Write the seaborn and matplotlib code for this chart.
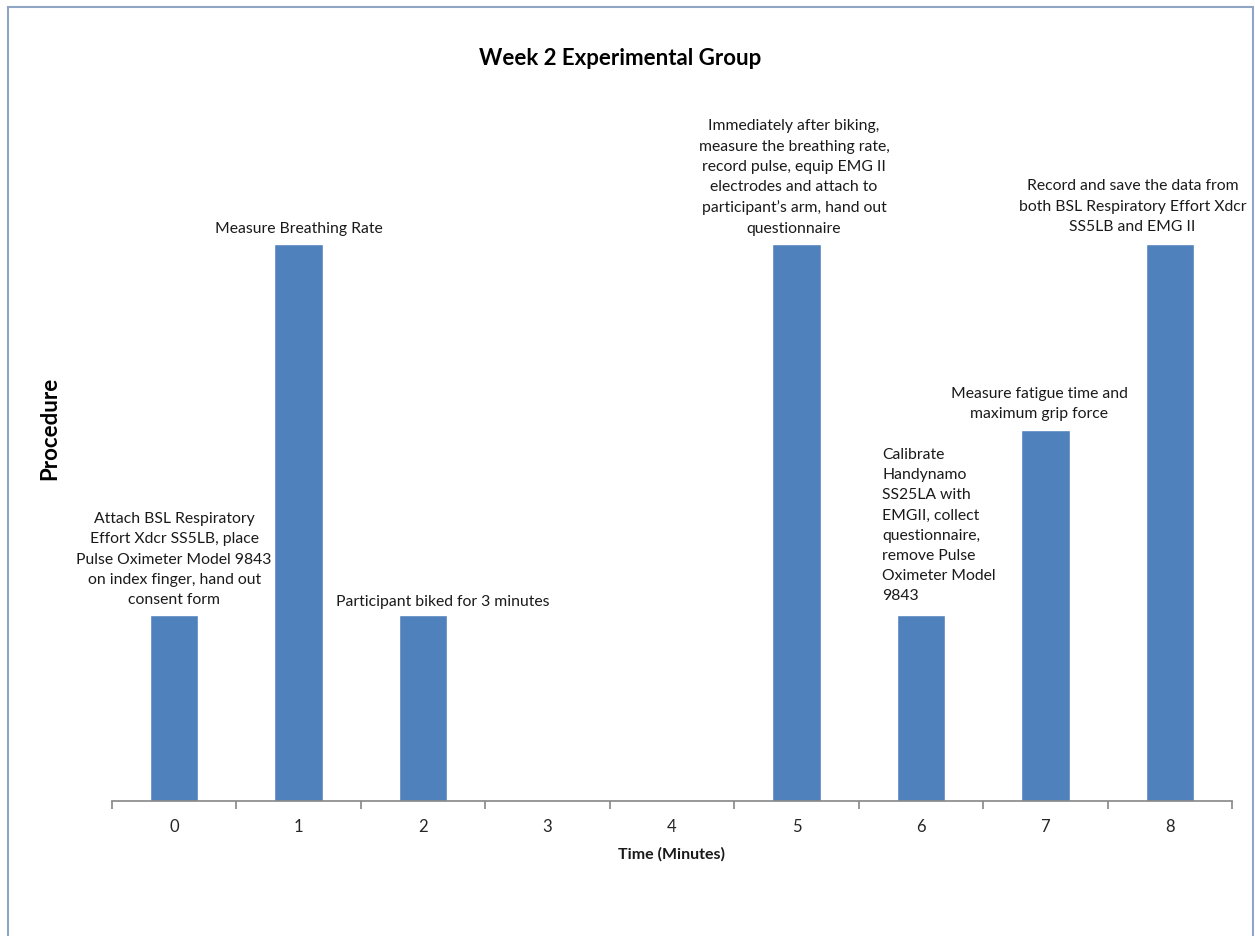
import matplotlib
matplotlib.use("Agg")
import matplotlib.pyplot as plt
import seaborn as sns
import pandas as pd
from matplotlib.patches import Rectangle

# Timeline data
minutes = ["0", "1", "2", "3", "4", "5", "6", "7", "8"]
procedure_level = [1, 3, 1, 0, 0, 3, 1, 2, 3]
step_notes = [
    "Attach BSL Respiratory\nEffort Xdcr SS5LB, place\nPulse Oximeter Model 9843\non index finger, hand out\nconsent form",
    "Measure Breathing Rate",
    "Participant biked for 3 minutes",
    "",
    "",
    "Immediately after biking,\nmeasure the breathing rate,\nrecord pulse, equip EMG II\nelectrodes and attach to\nparticipant\u2019s arm, hand out\nquestionnaire",
    "Calibrate\nHandynamo\nSS25LA with\nEMGII, collect\nquestionnaire,\nremove Pulse\nOximeter Model\n9843",
    "Measure fatigue time and\nmaximum grip force",
    "Record and save the data from\nboth BSL Respiratory Effort Xdcr\nSS5LB and EMG II",
]
title = "Week 2 Experimental Group"
x_title = "Time (Minutes)"
y_title = "Procedure"

sns.set_theme(style="white")
plt.rcParams["font.family"] = ["Lato", "DejaVu Sans"]

df = pd.DataFrame({"minute": minutes, "level": procedure_level})

fig = plt.figure(figsize=(12.55, 9.37), dpi=100)
ax = fig.add_axes([0.0892, 0.1441, 0.8925, 0.7492])

sns.barplot(data=df, x="minute", y="level", order=minutes, color="#4F81BD",
            saturation=1, width=0.39, ax=ax)

ax.set_ylim(0, 3.78)
ax.set_xlim(-0.5, len(minutes) - 0.5)
ax.set_yticks([])
for side in ("left", "right", "top"):
    ax.spines[side].set_visible(False)
ax.spines["bottom"].set_color("#868686")
ax.spines["bottom"].set_linewidth(1.2)

# Category separators as tick marks below the axis
ax.set_xticks([i - 0.5 for i in range(len(minutes) + 1)], minor=True)
ax.tick_params(axis="x", which="minor", length=6, width=1.2, color="#868686",
               direction="out", bottom=True)
ax.tick_params(axis="x", which="major", length=0, pad=12, labelsize=12,
               labelcolor="#262626")

ax.set_xlabel(x_title, fontsize=11.5, fontweight="bold", color="#1a1a1a", labelpad=9)
ax.set_ylabel(y_title, fontsize=16, fontweight="bold", color="#000000")
ax.yaxis.set_label_coords(-0.046, 0.532)
fig.text(0.494, 0.938, title, ha="center", va="center", fontsize=16,
         fontweight="bold", color="#000000")

# Step descriptions above the bars
note_layout = {
    0: (0.0, 0.05, "center"),
    1: (0.0, 0.05, "center"),
    2: (0.16, 0.04, "center"),
    5: (-0.02, 0.05, "center"),
    6: (-0.31, 0.07, "left"),
    7: (-0.05, 0.05, "center"),
    8: (-0.30, 0.06, "center"),
}
for i, note in enumerate(step_notes):
    if not note:
        continue
    dx, pad, ha = note_layout[i]
    ax.text(i + dx, procedure_level[i] + pad, note, ha=ha, va="bottom",
            multialignment=ha, fontsize=11.3, color="#1a1a1a",
            linespacing=1.56, clip_on=False)

# Chart frame
fig.patches.append(Rectangle((8 / 1255, -0.05), 1245 / 1255, 1.05 - 8 / 937,
                             transform=fig.transFigure, fill=False,
                             edgecolor="#8EA5C3", linewidth=1.5))

fig.savefig("out.png", dpi=100, facecolor="white")
